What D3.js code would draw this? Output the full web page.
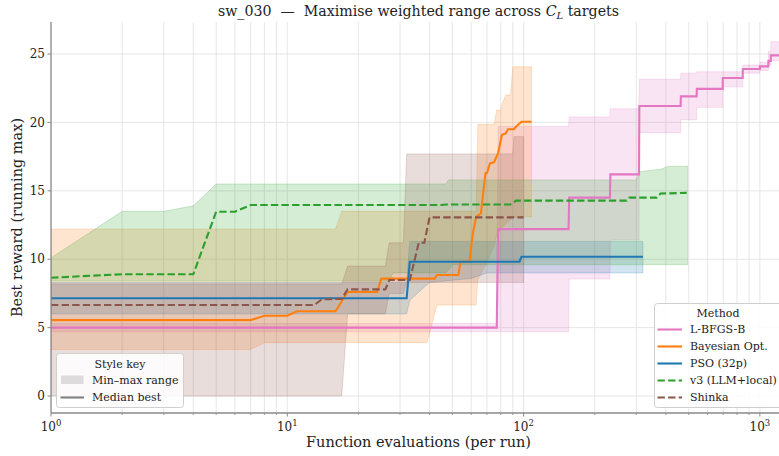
<!DOCTYPE html>
<html><head><meta charset="utf-8">
<script src="https://cdn.jsdelivr.net/npm/d3@7"></script>
<style>
body{margin:0;background:#fff;}
svg{display:block;font-family:"DejaVu Serif",serif;}
text{white-space:pre;}
</style></head><body>
<svg id="chart" width="779" height="456"></svg>
<script>
// ---- Methods ----
const methods = ["L-BFGS-B", "Bayesian Opt.", "PSO (32p)", "v3 (LLM+local)", "Shinka"];
const methodColors = ["#e377c2", "#ff7f0e", "#1f77b4", "#2ca02c", "#8c564b"];
const methodDashed = [false, false, false, true, true];

// ---- L-BFGS-B ----
const lbfgsEvals  = [1, 77, 78, 155, 156, 232, 233, 308, 309, 462, 463, 540, 541, 696, 697, 846, 847, 1000, 1001, 1086, 1087, 1112, 1113, 1280];
const lbfgsMedian = [5.0, 5.0, 12.2, 12.2, 14.5, 14.5, 16.2, 16.2, 21.2, 21.2, 21.9, 21.9, 22.45, 22.45, 23.25, 23.25, 23.9, 23.9, 24.1, 24.1, 24.5, 24.5, 24.9, 24.9];
const lbfgsBandEvals = [1, 77, 78, 155, 156, 232, 233, 308, 309, 462, 463, 540, 541, 696, 697, 846, 847, 1000, 1001, 1086, 1087, 1112, 1113, 1280];
const lbfgsMin = [4.7, 4.7, 4.7, 4.7, 8.55, 8.55, 11.4, 11.4, 19.25, 19.25, 20.2, 20.2, 21.1, 21.1, 22.6, 22.6, 23.6, 23.6, 23.8, 23.8, 24.2, 24.2, 24.5, 24.5];
const lbfgsMax = [5.3, 5.3, 19.7, 19.7, 20.4, 20.4, 21.0, 21.0, 23.15, 23.15, 23.6, 23.6, 23.7, 23.7, 23.7, 23.7, 24.2, 24.2, 24.4, 24.4, 25.2, 25.2, 25.9, 25.9];

// ---- Bayesian Opt. ----
const bayesEvals  = [1, 7, 8, 10, 11, 16, 18, 24, 25, 42, 43, 53, 54, 59, 61, 63, 66, 69, 70, 72, 75, 78, 81, 84, 86, 91, 93, 98, 108];
const bayesMedian = [5.55, 5.55, 5.87, 5.87, 6.2, 6.2, 7.6, 7.6, 8.58, 8.58, 8.85, 8.85, 9.82, 9.82, 11.9, 13.1, 13.35, 16.3, 16.3, 17.0, 17.1, 17.75, 19.1, 19.2, 19.5, 19.5, 19.7, 20.05, 20.05];
const bayesBandEvals = [1, 7, 8, 16, 17, 39, 41, 43, 63, 64, 70, 75, 77, 80, 81, 84, 88, 90, 108];
const bayesMin = [3.4, 3.4, 3.9, 3.9, 3.9, 3.9, 5.3, 6.65, 6.65, 8.5, 9.8, 11.0, 11.8, 12.2, 12.3, 12.6, 12.9, 13.1, 13.1];
const bayesMax = [12.2, 12.2, 12.2, 12.2, 13.5, 13.5, 13.5, 13.5, 13.5, 19.86, 19.86, 19.86, 20.9, 20.9, 21.3, 22.0, 22.0, 24.07, 24.07];

// ---- PSO (32p) ----
const psoEvals  = [1, 32, 33, 96, 98, 320];
const psoMedian = [7.15, 7.15, 9.82, 9.82, 10.18, 10.18];
const psoBandEvals = [1, 32, 33, 40, 60, 70, 320];
const psoMin = [6.0, 6.0, 7.0, 8.3, 8.6, 9.0, 9.0];
const psoMax = [8.3, 8.3, 11.3, 11.3, 11.3, 11.3, 11.3];

// ---- v3 (LLM+local) ----
const v3Evals  = [1, 2, 4, 5, 6, 7, 45, 47, 88, 93, 273, 280, 366, 380, 490];
const v3Median = [8.65, 8.9, 8.9, 13.47, 13.47, 13.96, 13.96, 14.0, 14.0, 14.28, 14.28, 14.5, 14.5, 14.8, 14.85];
const v3BandEvals = [1, 2, 3, 4, 5, 27, 28, 47, 48, 50, 300, 310, 384, 409, 495];
const v3Min = [8.4, 8.4, 8.4, 8.4, 8.4, 8.4, 9.0, 9.0, 9.2, 9.6, 9.6, 9.6, 9.6, 9.6, 9.6];
const v3Max = [10.1, 13.5, 13.5, 13.9, 15.5, 15.5, 15.5, 15.5, 15.8, 15.8, 15.8, 16.4, 16.6, 16.8, 16.8];

// ---- Shinka ----
const shinkaEvals  = [1, 13, 14, 17, 18, 26, 27, 33, 36, 38, 40, 100];
const shinkaMedian = [6.65, 6.65, 7.07, 7.1, 7.8, 7.8, 8.48, 8.48, 11.2, 11.2, 13.06, 13.06];
const shinkaBandEvals = [1, 17, 18, 26, 27, 31, 32, 90, 91, 100];
const shinkaMin = [0, 0, 6.0, 6.0, 7.5, 7.5, 8.3, 8.3, 8.3, 8.3];
const shinkaMax = [8.2, 8.2, 9.5, 9.5, 11.2, 11.2, 17.7, 17.7, 18.96, 18.96];

// ---- Axis ticks ----
const yTicks = [0, 5, 10, 15, 20, 25];
const xMajorExps = [0, 1, 2, 3];

const titleMain = "sw_030  —  Maximise weighted range across ";
const xLabel = "Function evaluations (per run)";
const yLabel = "Best reward (running max)";
const styleKeyTitle = "Style key";
const styleKeyItems = ["Min–max range", "Median best"];
const legendTitle = "Method";

// Assemble series from the arrays above
const zipLine = (e, m) => e.map((v, i) => ({ e: v, v: m[i] }));
const zipBand = (e, lo, hi) => e.map((v, i) => ({ e: v, lo: lo[i], hi: hi[i] }));
const series = [
  { line: zipLine(lbfgsEvals, lbfgsMedian), band: zipBand(lbfgsBandEvals, lbfgsMin, lbfgsMax) },
  { line: zipLine(bayesEvals, bayesMedian), band: zipBand(bayesBandEvals, bayesMin, bayesMax) },
  { line: zipLine(psoEvals, psoMedian), band: zipBand(psoBandEvals, psoMin, psoMax) },
  { line: zipLine(v3Evals, v3Median), band: zipBand(v3BandEvals, v3Min, v3Max) },
  { line: zipLine(shinkaEvals, shinkaMedian), band: zipBand(shinkaBandEvals, shinkaMin, shinkaMax) }
].map((s, i) => ({ ...s, name: methods[i], color: methodColors[i], dashed: methodDashed[i] }));

const svg = d3.select("#chart");
const pL = 51, pR = 786, pT = 22, pB = 413;

const x = d3.scaleLog().domain([1, 1290]).range([pL, pR]);
const y = d3.scaleLinear().domain([-1.24, 27.34]).range([pB, pT]);

svg.append("defs").append("clipPath").attr("id", "plotClip")
  .append("rect").attr("x", pL).attr("y", pT).attr("width", pR - pL).attr("height", pB - pT);

// Grid lines: every major and minor decade step on x, majors on y
const xGridVals = [];
for (let d = 1; d <= 1000; d *= 10) for (let k = 1; k <= 9; k++) if (d * k <= 1290) xGridVals.push(d * k);
const grid = svg.append("g").attr("clip-path", "url(#plotClip)");
grid.selectAll("line.gx").data(xGridVals).join("line")
  .attr("x1", d => x(d)).attr("x2", d => x(d)).attr("y1", pT).attr("y2", pB)
  .attr("stroke", "#e3e3e3").attr("stroke-width", 0.9);
grid.selectAll("line.gy").data(yTicks).join("line")
  .attr("x1", pL).attr("x2", pR).attr("y1", d => y(d)).attr("y2", d => y(d))
  .attr("stroke", "#e3e3e3").attr("stroke-width", 0.9);

const plot = svg.append("g").attr("clip-path", "url(#plotClip)");

// Min–max bands
const area = d3.area().x(d => x(d.e)).y0(d => y(d.lo)).y1(d => y(d.hi));
plot.selectAll("path.band").data(series).join("path")
  .attr("class", "band")
  .attr("d", d => area(d.band))
  .attr("fill", d => d.color).attr("fill-opacity", 0.2)
  .attr("stroke", d => d.color).attr("stroke-opacity", 0.2).attr("stroke-width", 1);

// Median lines
const line = d3.line().x(d => x(d.e)).y(d => y(d.v));
plot.selectAll("path.med").data(series).join("path")
  .attr("class", "med")
  .attr("d", d => line(d.line))
  .attr("fill", "none").attr("stroke", d => d.color).attr("stroke-width", 2.1)
  .attr("stroke-dasharray", d => d.dashed ? "7.4,3.2" : null);

// Axes
const axisColor = "#8a8a8a";
const xMinor = xGridVals.filter(v => !xMajorExps.some(e => Math.pow(10, e) === v));
const xAxis = svg.append("g").attr("transform", `translate(0,${pB})`);
xAxis.append("line").attr("x1", pL).attr("x2", pR).attr("y1", 0).attr("y2", 0)
  .attr("stroke", axisColor).attr("stroke-width", 1.3);
xAxis.selectAll("line.minor").data(xMinor).join("line")
  .attr("x1", d => x(d)).attr("x2", d => x(d)).attr("y1", 0).attr("y2", 2)
  .attr("stroke", axisColor).attr("stroke-width", 0.8);
xAxis.selectAll("line.major").data(xMajorExps).join("line")
  .attr("x1", d => x(Math.pow(10, d))).attr("x2", d => x(Math.pow(10, d))).attr("y1", 0).attr("y2", 3.5)
  .attr("stroke", axisColor).attr("stroke-width", 1);
const xt = xAxis.selectAll("text.tl").data(xMajorExps).join("text")
  .attr("x", d => x(Math.pow(10, d))).attr("y", 18)
  .attr("text-anchor", "middle").attr("font-size", 12).attr("fill", "#222");
xt.append("tspan").text("10");
xt.append("tspan").attr("dy", -5).attr("font-size", 8.5).text(d => d);

const yAxis = svg.append("g");
yAxis.append("line").attr("x1", pL).attr("x2", pL).attr("y1", pT).attr("y2", pB)
  .attr("stroke", axisColor).attr("stroke-width", 1.3);
yAxis.selectAll("line.t").data(yTicks).join("line")
  .attr("x1", pL - 3.5).attr("x2", pL).attr("y1", d => y(d)).attr("y2", d => y(d))
  .attr("stroke", axisColor).attr("stroke-width", 1);
yAxis.selectAll("text").data(yTicks).join("text")
  .attr("x", pL - 6).attr("y", d => y(d)).attr("dy", "0.35em")
  .attr("text-anchor", "end").attr("font-size", 12).attr("fill", "#222").text(d => d);

// Titles
const t = svg.append("text").attr("x", (pL + pR) / 2).attr("y", 16)
  .attr("text-anchor", "middle").attr("font-size", 14.2).attr("fill", "#222");
t.append("tspan").text(titleMain);
t.append("tspan").attr("font-style", "italic").text("C");
t.append("tspan").attr("font-style", "italic").attr("font-size", 10).attr("dy", 3).text("L");
t.append("tspan").attr("dy", -3).text(" targets");

svg.append("text").attr("x", (pL + pR) / 2).attr("y", 447)
  .attr("text-anchor", "middle").attr("font-size", 14.5).attr("fill", "#222").text(xLabel);
svg.append("text").attr("transform", `translate(22,${(pT + pB) / 2}) rotate(-90)`)
  .attr("text-anchor", "middle").attr("font-size", 14.5).attr("fill", "#222").text(yLabel);

// Method legend
const leg = svg.append("g");
leg.append("rect").attr("x", 654.5).attr("y", 303.5).attr("width", 140).attr("height", 104).attr("rx", 3)
  .attr("fill", "#fff").attr("fill-opacity", 0.85).attr("stroke", "#cfcfcf");
leg.append("text").attr("x", 718).attr("y", 313).attr("dy", "0.35em").attr("text-anchor", "middle")
  .attr("font-size", 11).attr("fill", "#222").text(legendTitle);
const items = leg.selectAll("g.it").data(series).join("g")
  .attr("transform", (d, i) => `translate(0,${329.5 + i * 17})`);
items.append("line").attr("x1", 657.5).attr("x2", 682).attr("y1", 0).attr("y2", 0)
  .attr("stroke", d => d.color).attr("stroke-width", 2.1)
  .attr("stroke-dasharray", d => d.dashed ? "7.4,3.2" : null);
items.append("text").attr("x", 690).attr("y", 0).attr("dy", "0.35em")
  .attr("font-size", 11).attr("fill", "#222").text(d => d.name);

// Style key legend
const sk = svg.append("g");
sk.append("rect").attr("x", 56.5).attr("y", 353.5).attr("width", 127).attr("height", 54).attr("rx", 3)
  .attr("fill", "#fff").attr("fill-opacity", 0.85).attr("stroke", "#cfcfcf");
sk.append("text").attr("x", 120).attr("y", 364).attr("dy", "0.35em").attr("text-anchor", "middle")
  .attr("font-size", 11).attr("fill", "#222").text(styleKeyTitle);
sk.append("rect").attr("x", 61).attr("y", 375.5).attr("width", 22.5).attr("height", 8.5)
  .attr("fill", "#808080").attr("fill-opacity", 0.25);
sk.append("text").attr("x", 92).attr("y", 380.5).attr("dy", "0.35em")
  .attr("font-size", 11).attr("fill", "#222").text(styleKeyItems[0]);
sk.append("line").attr("x1", 60.5).attr("x2", 84).attr("y1", 397.5).attr("y2", 397.5)
  .attr("stroke", "#808080").attr("stroke-width", 2.1);
sk.append("text").attr("x", 92).attr("y", 397.5).attr("dy", "0.35em")
  .attr("font-size", 11).attr("fill", "#222").text(styleKeyItems[1]);
</script></body></html>
